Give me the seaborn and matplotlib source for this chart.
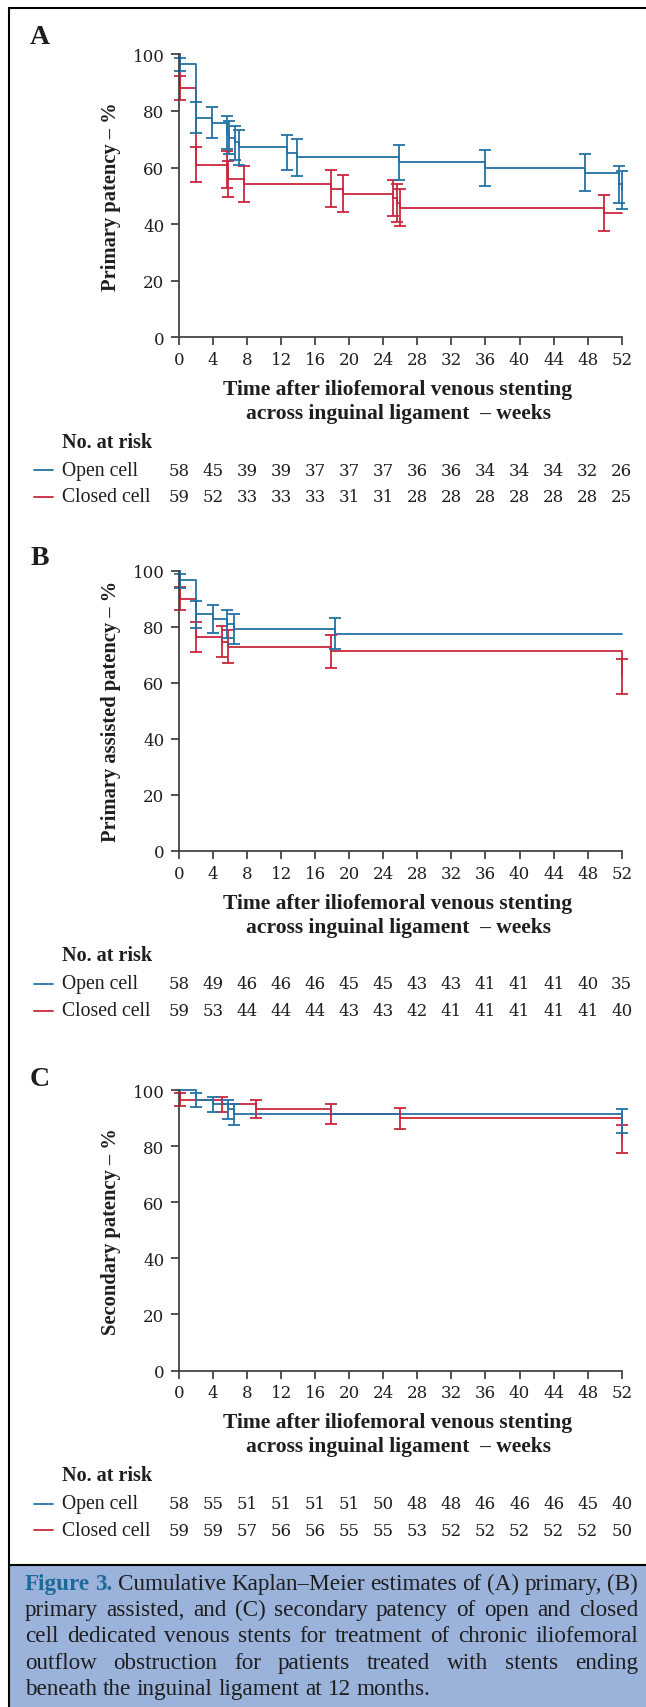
import numpy as np
import pandas as pd
import seaborn as sns
import matplotlib.pyplot as plt
import matplotlib.transforms as mtransforms
from matplotlib.lines import Line2D
from matplotlib.patches import Rectangle

BLUE = "#2473a6"
RED = "#c8273d"
INK = "#1e1e1e"
NUM_FONT = ["DejaVu Serif"]

weeks = list(range(0, 53, 4))

# A - primary patency (event week, estimate, lower / upper CI)
a_open_t = [0.1, 2.0, 3.9, 5.6, 5.9, 6.6, 7.1, 12.7, 13.9, 25.9, 36.0, 47.7, 51.7, 52.0]
a_open_s = [96.6, 77.6, 75.9, 72.3, 70.6, 68.9, 67.1, 65.3, 63.6, 61.8, 60.0, 58.1, 54.0, 52.0]
a_open_lo = [94.1, 72.2, 70.3, 66.4, 64.6, 62.8, 60.9, 59.1, 57.1, 55.5, 53.5, 51.7, 47.5, 45.3]
a_open_hi = [98.8, 83.0, 81.5, 78.2, 76.6, 74.8, 73.3, 71.5, 69.9, 68.0, 66.3, 64.6, 60.6, 58.7]
a_closed_t = [0.1, 2.0, 5.6, 5.8, 7.6, 17.9, 19.3, 25.1, 25.6, 26.0, 49.9]
a_closed_s = [88.1, 61.0, 59.3, 55.9, 54.2, 52.5, 50.8, 49.2, 47.5, 45.8, 44.0]
a_closed_lo = [84.0, 54.8, 52.8, 49.4, 47.8, 46.0, 44.3, 42.7, 40.9, 39.3, 37.5]
a_closed_hi = [92.5, 67.3, 65.8, 62.4, 60.6, 59.1, 57.3, 55.7, 54.0, 52.3, 50.4]
a_risk_open = [58, 45, 39, 39, 37, 37, 37, 36, 36, 34, 34, 34, 32, 26]
a_risk_closed = [59, 52, 33, 33, 33, 31, 31, 28, 28, 28, 28, 28, 28, 25]

# B - primary assisted patency
b_open_t = [0.1, 2.0, 4.0, 5.6, 6.5, 18.3]
b_open_s = [96.5, 84.5, 82.7, 81.0, 79.2, 77.4]
b_open_lo = [93.9, 79.6, 77.7, 76.0, 73.9, 71.9]
b_open_hi = [98.9, 89.2, 87.7, 86.0, 84.5, 83.0]
b_closed_t = [0.1, 2.0, 5.1, 5.8, 17.8, 52.0]
b_closed_s = [90.0, 76.3, 74.6, 72.9, 71.2, 62.3]
b_closed_lo = [86.0, 70.8, 69.0, 67.1, 65.4, 56.0]
b_closed_hi = [94.0, 81.8, 80.2, 78.7, 77.0, 68.6]
b_risk_open = [58, 49, 46, 46, 46, 45, 45, 43, 43, 41, 41, 41, 40, 35]
b_risk_closed = [59, 53, 44, 44, 44, 43, 43, 42, 41, 41, 41, 41, 41, 40]

# C - secondary patency
c_open_t = [2.0, 4.0, 5.8, 6.5, 52.0]
c_open_s = [96.6, 94.9, 93.1, 91.3, 89.0]
c_open_lo = [94.0, 92.0, 89.6, 87.6, 84.7]
c_open_hi = [98.8, 97.6, 96.4, 95.0, 93.3]
c_closed_t = [0.1, 5.1, 9.0, 17.9, 26.0, 52.0]
c_closed_s = [96.6, 94.9, 93.2, 91.5, 89.9, 82.6]
c_closed_lo = [94.4, 92.1, 90.1, 87.9, 86.0, 77.6]
c_closed_hi = [99.0, 97.6, 96.3, 95.1, 93.7, 87.6]
c_risk_open = [58, 55, 51, 51, 51, 51, 50, 48, 48, 46, 46, 46, 45, 40]
c_risk_closed = [59, 59, 57, 56, 56, 55, 55, 53, 52, 52, 52, 52, 52, 50]

caption_lines = [
    "Figure 3. Cumulative Kaplan–Meier estimates of (A) primary, (B)",
    "primary assisted, and (C) secondary patency of open and closed",
    "cell dedicated venous stents for treatment of chronic iliofemoral",
    "outflow obstruction for patients treated with stents ending",
    "beneath the inguinal ligament at 12 months.",
]

sns.set_theme(style="ticks")
plt.rcParams["font.family"] = ["Liberation Serif", "DejaVu Serif"]
plt.rcParams["text.color"] = INK

W, H = 646, 1708
fig = plt.figure(figsize=(W / 100, H / 100), dpi=100)


def fx(x):
    return x / W


def fy(y):
    return 1 - y / H


def km_frame(t, s, name):
    tt = [0.0] + list(t)
    ss = [100.0] + list(s)
    if tt[-1] < 52:
        tt.append(52.0)
        ss.append(ss[-1])
    return pd.DataFrame({"week": tt, "pct": ss, "group": name})


def panel(top, bottom, letter, letter_y, ylabel, open_data, closed_data, risk_open, risk_closed):
    ax = fig.add_axes([fx(179), fy(bottom), fx(621.7) - fx(179), (bottom - top) / H])
    df = pd.concat([km_frame(closed_data[0], closed_data[1], "Closed cell"),
                    km_frame(open_data[0], open_data[1], "Open cell")])
    sns.lineplot(data=df, x="week", y="pct", hue="group",
                 hue_order=["Closed cell", "Open cell"],
                 palette={"Open cell": BLUE, "Closed cell": RED},
                 drawstyle="steps-post", estimator=None, sort=False,
                 legend=False, lw=1.3, ax=ax)
    for (t, s, lo, hi), c in [(closed_data, RED), (open_data, BLUE)]:
        ax.errorbar(t, s, yerr=[np.subtract(s, lo), np.subtract(hi, s)], fmt="none",
                    ecolor=c, elinewidth=1.3, capsize=4.3, capthick=1.3)
    for art in ax.lines + ax.collections:
        art.set_clip_on(False)

    ax.set_xlim(0, 52)
    ax.set_ylim(0, 100)
    ax.set_xticks(weeks)
    ax.set_yticks(range(0, 101, 20))
    ax.set_xlabel("")
    ax.set_ylabel("")
    sns.despine(ax=ax)
    for sp in ["left", "bottom"]:
        ax.spines[sp].set_color("#444444")
        ax.spines[sp].set_linewidth(1.3)
    ax.tick_params(axis="both", length=5.5, width=1.3, color="#444444",
                   labelsize=12, labelcolor=INK)
    ax.tick_params(axis="x", pad=4.5)
    ax.tick_params(axis="y", pad=5)
    for lab in ax.get_xticklabels() + ax.get_yticklabels():
        lab.set_fontfamily(NUM_FONT)

    fig.text(fx(40), fy(letter_y), letter, fontsize=20, fontweight="bold",
             ha="center", va="center")
    fig.text(fx(111), fy((top + bottom) / 2), ylabel, rotation=90, fontsize=14.8,
             fontweight="bold", ha="center", va="center")
    fig.text(fx(398), fy(bottom + 52), "Time after iliofemoral venous stenting",
             fontsize=15.5, fontweight="bold", ha="center", va="center")
    fig.text(fx(398), fy(bottom + 76), "across inguinal ligament  – weeks",
             fontsize=15.5, fontweight="bold", ha="center", va="center")
    fig.text(fx(62), fy(bottom + 104.5), "No. at risk", fontsize=14.5,
             fontweight="bold", ha="left", va="center")

    trans = mtransforms.blended_transform_factory(ax.transData, fig.transFigure)
    for name, risk, c, dy in [("Open cell", risk_open, BLUE, 133),
                              ("Closed cell", risk_closed, RED, 159.5)]:
        y = fy(bottom + dy)
        fig.add_artist(Line2D([fx(34), fx(53)], [y, y], color=c, lw=1.3))
        fig.text(fx(62), y, name, fontsize=14.2, ha="left", va="center")
        for w, n in zip(weeks, risk):
            ax.text(w, y, str(n), transform=trans, fontsize=12, family=NUM_FONT,
                    ha="center", va="center", clip_on=False)
    return ax


panel(55.3, 338.3, "A", 37, "Primary patency – %",
      (a_open_t, a_open_s, a_open_lo, a_open_hi),
      (a_closed_t, a_closed_s, a_closed_lo, a_closed_hi),
      a_risk_open, a_risk_closed)
panel(571.5, 852, "B", 559, "Primary assisted patency – %",
      (b_open_t, b_open_s, b_open_lo, b_open_hi),
      (b_closed_t, b_closed_s, b_closed_lo, b_closed_hi),
      b_risk_open, b_risk_closed)
panel(1091, 1371.5, "C", 1080, "Secondary patency – %",
      (c_open_t, c_open_s, c_open_lo, c_open_hi),
      (c_closed_t, c_closed_s, c_closed_lo, c_closed_hi),
      c_risk_open, c_risk_closed)

# frame and caption box
fig.add_artist(Rectangle((fx(8.5), 0), 1 - fx(8.5), (H - 1566) / H,
                         transform=fig.transFigure, facecolor="#9bb2da",
                         edgecolor="none", zorder=0))
fig.add_artist(Line2D([fx(8.5), fx(8.5)], [0, fy(8.5)], color="black", lw=1.5))
fig.add_artist(Line2D([fx(8.5), 1], [fy(8.5), fy(8.5)], color="black", lw=1.5))
fig.add_artist(Line2D([fx(8.5), 1], [fy(1566), fy(1566)], color="black", lw=1.5))

# justified caption
renderer = fig.canvas.get_renderer()
left, right = 25, 638


def text_width(s, size, bold=False):
    t = fig.text(0, 0, s, fontsize=size, fontweight="bold" if bold else "normal")
    w = t.get_window_extent(renderer).width
    t.remove()
    return w


def caption_words(line_no, size):
    words = caption_lines[line_no].split(" ")
    bold = [line_no == 0 and j < 2 for j in range(len(words))]
    widths = [text_width(w, size, b) for w, b in zip(words, bold)]
    return words, bold, widths


cap_size = 17.2
while True:
    space = text_width("a b", cap_size) - text_width("ab", cap_size)
    ok = True
    for i in range(len(caption_lines) - 1):
        words, bold, widths = caption_words(i, cap_size)
        if (right - left - sum(widths)) / (len(words) - 1) < 0.8 * space:
            ok = False
    if ok:
        break
    cap_size -= 0.1

for i in range(len(caption_lines)):
    words, bold, widths = caption_words(i, cap_size)
    base = fy(1584 + i * 26.25 + 6)
    if i < len(caption_lines) - 1:
        gap = (right - left - sum(widths)) / (len(words) - 1)
    else:
        gap = space
    x = left
    for w, b, wd in zip(words, bold, widths):
        fig.text(fx(x), base, w, fontsize=cap_size, color="#1d6a9a" if b else INK,
                 fontweight="bold" if b else "normal", ha="left", va="baseline")
        x += wd + gap

fig.savefig("out.png", dpi=100)
